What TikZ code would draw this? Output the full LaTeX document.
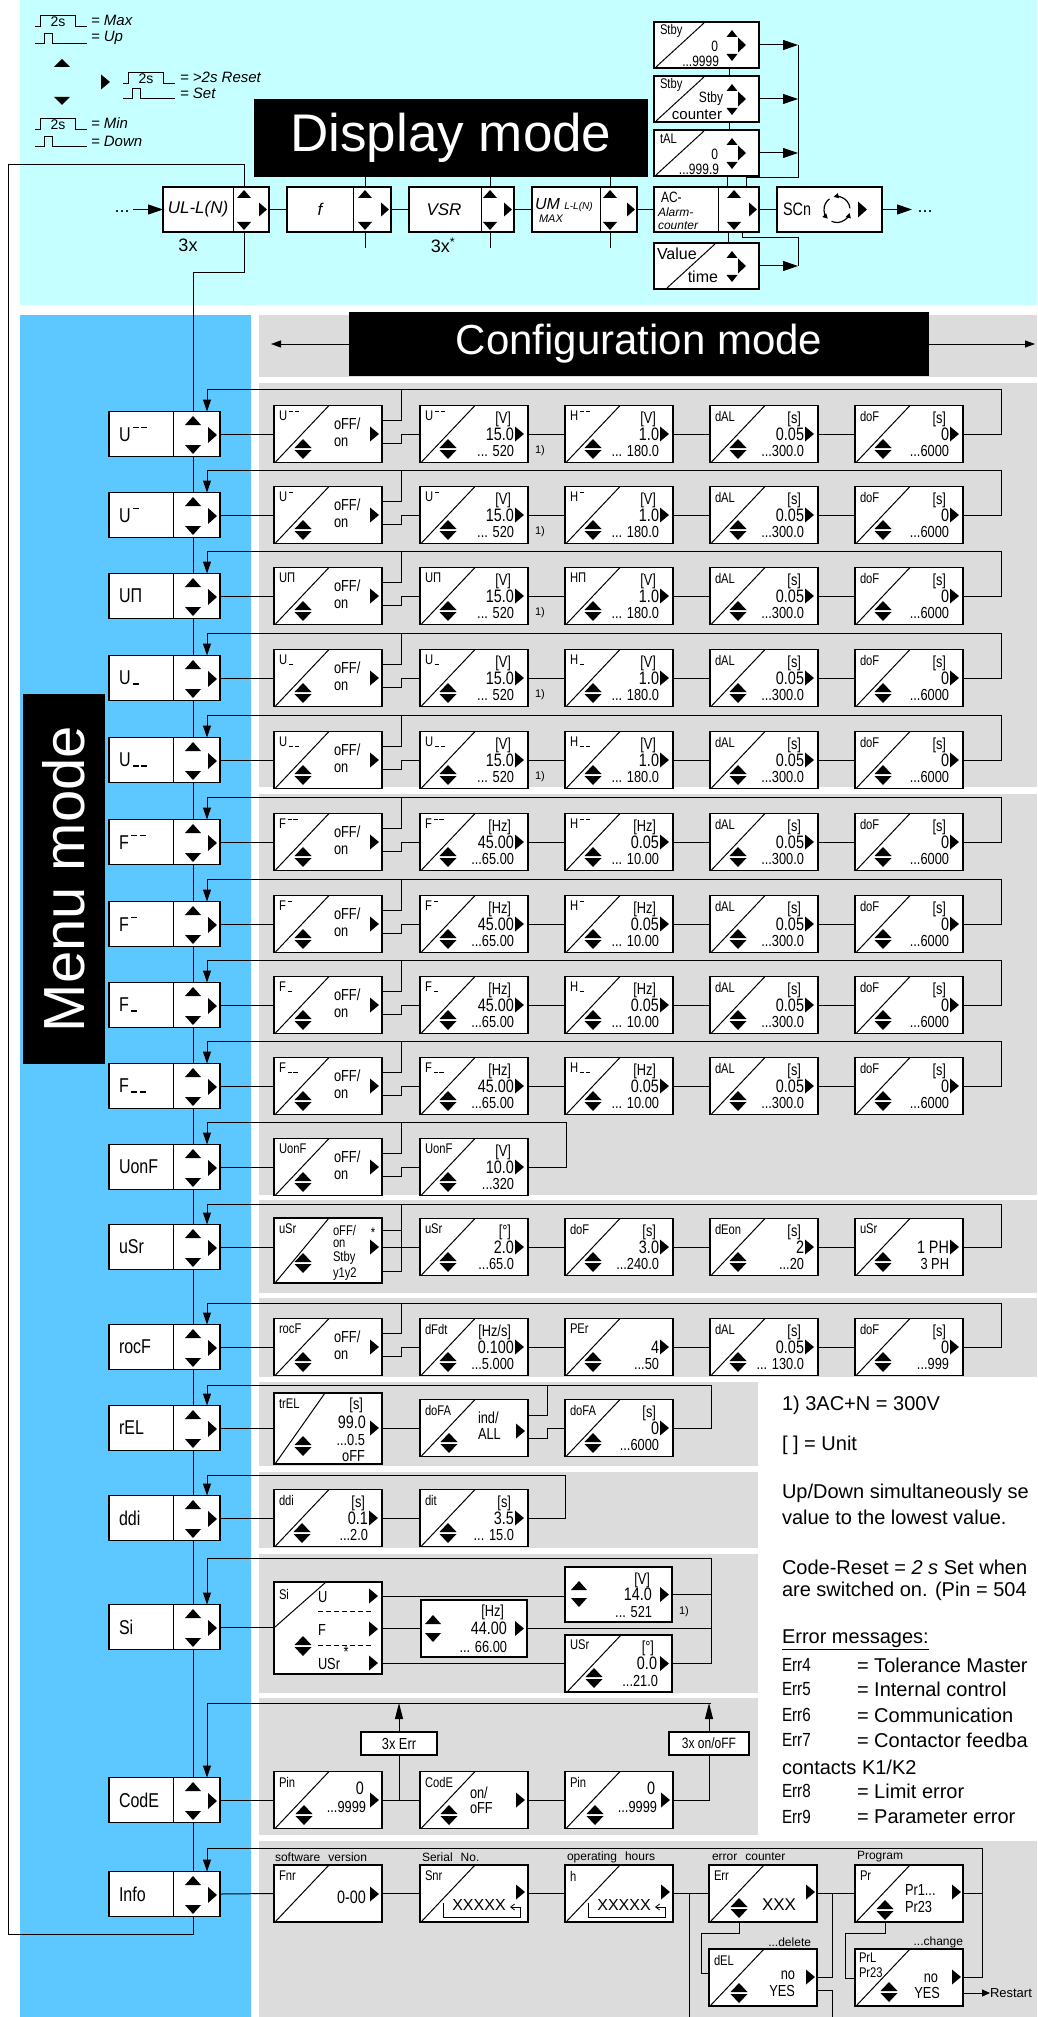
\documentclass[tikz,border=0pt]{standalone}
\usepackage{fontspec}
\setmainfont{Liberation Sans}
\newfontfamily\seg[FakeStretch=0.8]{Liberation Sans}
\usetikzlibrary{arrows.meta}
\definecolor{cyanbg}{RGB}{198,255,255}
\definecolor{bluebg}{RGB}{92,200,255}
\definecolor{graybg}{RGB}{220,220,220}

\newcommand\HD{\hspace{0.12em}\rule[0.64em]{0.3em}{0.07em}}
\newcommand\LD{\hspace{0.12em}\rule{0.3em}{0.07em}}

\newcommand\Tup[4]{\fill (#1-#3,#2) -- (#1+#3,#2) -- (#1,#2-#4) -- cycle;}
\newcommand\Tdn[4]{\fill (#1-#3,#2) -- (#1+#3,#2) -- (#1,#2+#4) -- cycle;}
\newcommand\Trt[4]{\fill (#1,#2-#3) -- (#1,#2+#3) -- (#1+#4,#2) -- cycle;}
\newcommand\UD[2]{\Tup{#1}{#2-1}{8.5}{9}\Tdn{#1}{#2+1}{8.5}{9}}

\newcommand\MenuBox[3]{%
 \node[bx, minimum width=111pt, minimum height=45pt] (#1) at (164.5,#2) {};
 \draw[ln] (173,#2-22.5) -- (173,#2+22.5);
 \node[ml, anchor=west] (#1l) at (119,#2) {#3};
 \Tup{193}{#2-9}{8}{9}\Tdn{193}{#2+11}{8}{9}\Trt{208}{#2+1}{8}{9}
 \coordinate (#1t) at (193,#2-22.5);
 \coordinate (#1b) at (193,#2+22.5);
 \coordinate (#1r) at (207,#2-22.5);}

\newcommand\CB[5]{\node[bx, anchor=north west, minimum width=#4pt, minimum height=#5pt] (#1) at (#2,#3) {};}

\newcommand\VB[7]{%
 \CB{#1}{#2}{#3-28.5}{108}{57}
 \draw[ln] (#2+1,#3+28.5) -- (#2+55,#3-28.5);
 \node[lb, anchor=west] (#1l) at (#2+5,#3-18) {#4};
 \node[ut, anchor=east] (#1u) at (#2+91,#3-15) {#5};
 \node[vl, anchor=east] (#1v) at (#2+94,#3) {#6};
 \node[rg, anchor=east] (#1g) at (#2+94,#3+17) {#7};
 \UD{#2+28}{#3+15}
 \Trt{#2+95}{#3}{7.5}{9}}

\newcommand\OB[4]{%
 \CB{#1}{#2}{#3-28.5}{108}{57}
 \draw[ln] (#2+1,#3+28.5) -- (#2+55,#3-28.5);
 \node[lb, anchor=west] (#1l) at (#2+5,#3-18) {#4};
 \node[vs, anchor=west] (#1o) at (#2+60,#3-10) {oFF/};
 \node[vs, anchor=west] (#1n) at (#2+60,#3+8) {on};
 \UD{#2+29}{#3+15}
 \Trt{#2+96}{#3}{7.5}{9}
 \coordinate (#1p) at (#2+108,#3-14);
 \coordinate (#1q) at (#2+108,#3+9);}

\newcommand\SRow[9]{%
 \MenuBox{#1m}{#2}{#3}
 \OB{#1a}{274}{#2}{#3}
 \VB{#1b}{420}{#2}{#3}{#5}{#6}{#7}
 \VB{#1c}{565}{#2}{#4}{#5}{#8}{#9}
 \VB{#1d}{710}{#2}{dAL}{[s]}{0.05}{...300.0}
 \VB{#1e}{855}{#2}{doF}{[s]}{0}{...6000}
 \draw[ln] (#1m.east) -- (#1a.west);
 \draw[ln] (#1ap) -| (401,#2-45);
 \draw[ln] (#1aq) -| (401,#2) -- (#1b.west);
 \draw[ln] (#1b.east) -- (#1c.west);
 \draw[ln] (#1c.east) -- (#1d.west);
 \draw[ln] (#1d.east) -- (#1e.west);
 \draw[arr] (#1e.east) -- (1001,#2) -- (1001,#2-45) -- (207,#2-45) -- (#1mr);}

\newcommand\DBox[5]{%
 \CB{#1}{#2}{187}{#4}{45}
 \draw[ln] (#3,187) -- (#3,232);
 \Tup{#5}{198}{7}{8}\Tdn{#5}{222}{7}{8}\Trt{#2+#4-10}{209.5}{7}{8}}

\newcommand\SbyBox[2]{%
 \CB{#1}{654}{#2}{105}{46}
 \Tup{732}{#2+15}{5.5}{7}\Trt{738}{#2+23}{7.5}{8}\Tdn{732}{#2+32}{5.5}{7}}

\newcommand\LPulse[3]{%
 \draw[line width=0.8pt] (#1,#2) -- (#1+5,#2) -- (#1+5,#2-11) -- (#1+40,#2-11) -- (#1+40,#2) -- (#1+52,#2);
 \node[tx, font=\fontsize{14}{14}\selectfont] (#3) at (#1+23,#2-4.5) {2s};}
\newcommand\SPulse[2]{%
 \draw[line width=0.8pt] (#1,#2) -- (#1+9,#2) -- (#1+9,#2-10) -- (#1+17,#2-10) -- (#1+17,#2) -- (#1+52,#2);}

\begin{document}
\begin{tikzpicture}[x=1pt,y=-1pt,
 ln/.style={line width=1pt},
 bx/.style={draw, line width=1.2pt, fill=white, inner sep=0pt, outer sep=0pt},
 tx/.style={inner sep=0pt, outer sep=0pt},
 ml/.style={tx, font=\seg\fontsize{20}{20}\selectfont},
 lb/.style={tx, font=\seg\fontsize{14}{14}\selectfont},
 ut/.style={tx, font=\seg\fontsize{16}{16}\selectfont},
 vl/.style={tx, font=\seg\fontsize{18}{18}\selectfont},
 rg/.style={tx, font=\seg\fontsize{16}{16}\selectfont},
 vs/.style={tx, font=\seg\fontsize{16}{16}\selectfont},
 vt/.style={tx, font=\seg\fontsize{14}{14}\selectfont},
 sv/.style={tx, font=\seg\fontsize{15}{15}\selectfont},
 it/.style={tx, font=\itshape\fontsize{15}{15}\selectfont},
 sm/.style={tx, font=\fontsize{12}{12}\selectfont},
 note/.style={tx, font=\fontsize{20}{20}\selectfont},
 es/.style={tx, font=\seg\fontsize{19}{19}\selectfont},
 fn/.style={tx, font=\fontsize{11}{11}\selectfont},
 arr/.style={ln, -{Triangle[length=12pt,width=8pt]}},
 arrS/.style={ln, -{Triangle[length=15pt,width=10pt]}},
 uarr/.style={ln, -{Triangle[length=16pt,width=8pt]}},
 sarr/.style={ln, -{Triangle[length=8pt,width=7pt]}}]
\useasboundingbox (0,0) rectangle (1037,2017);
\clip (0,0) rectangle (1037,2017);

% ---------- backgrounds
\fill[cyanbg] (20,0) rectangle (1037,305);
\fill[bluebg] (20,315) rectangle (251,2017);
\fill[graybg] (259,315) rectangle (1037,377);
\fill[graybg] (259,383) rectangle (1037,787);
\fill[graybg] (259,794) rectangle (1037,1195);
\fill[graybg] (259,1200) rectangle (1037,1293);
\fill[graybg] (259,1298) rectangle (1037,1377);
\fill[graybg] (259,1382) rectangle (758,1466);
\fill[graybg] (259,1472) rectangle (758,1548);
\fill[graybg] (259,1554) rectangle (758,1693);
\fill[graybg] (259,1698) rectangle (758,1835);
\fill[graybg] (259,1841) rectangle (1037,2017);

% ---------- legend
\LPulse{35}{26}{p1}
\node[it, anchor=west] (lg1) at (91,20) {= Max};
\SPulse{35}{43}
\node[it, anchor=west] (lg2) at (91,38) {= Up};
\Tup{62}{67}{8}{8}
\Trt{101}{82}{7.5}{9}
\Tdn{62}{97}{8}{8}
\LPulse{123}{83}{p2}
\node[it, anchor=west] (lg3) at (180,77) {= >2s Reset};
\SPulse{123}{98}
\node[it, anchor=west] (lg4) at (180,93) {= Set};
\LPulse{35}{129}{p3}
\node[it, anchor=west] (lg5) at (91,123) {= Min};
\SPulse{35}{146}
\node[it, anchor=west] (lg6) at (91,141) {= Down};

% ---------- display mode
\node[tx, fill=black, text=white, minimum width=394pt, minimum height=78pt, font=\fontsize{53}{53}\selectfont] (dm) at (451,138) {Display mode};
\DBox{d1}{163}{233}{106}{244}
\DBox{d2}{287}{353}{104}{365}
\DBox{d3}{409}{481}{105}{490}
\DBox{d4}{532}{600}{105}{610}
\DBox{d5}{654}{718}{105}{734}
\CB{sc}{777}{187}{105}{45}
\node[tx, font=\itshape\fontsize{17}{17}\selectfont] (d1l) at (198,209.5) {UL-L(N)};
\node[tx, font=\itshape\fontsize{17}{17}\selectfont] (d2l) at (320,209.5) {f};
\node[tx, font=\itshape\fontsize{17}{17}\selectfont] (d3l) at (444,209.5) {VSR};
\node[tx, anchor=west, font=\itshape\fontsize{16}{16}\selectfont] (d4l) at (535,205) {UM \fontsize{10}{10}\selectfont L-L(N)};
\node[tx, anchor=west, font=\itshape\fontsize{11}{11}\selectfont] (d4m) at (539,219) {MAX};
\node[tx, anchor=west, font=\seg\fontsize{15}{15}\selectfont] (d5l) at (661,197) {AC-};
\node[tx, anchor=west, font=\itshape\fontsize{12}{12}\selectfont] (d5m) at (658,212) {Alarm-};
\node[tx, anchor=west, font=\itshape\fontsize{12}{12}\selectfont] (d5n) at (658,226) {counter};
\node[tx, anchor=west, font=\seg\fontsize{18}{18}\selectfont] (scl) at (783,209.5) {SCn};
\draw[line width=1.2pt, -{Triangle[length=5pt,width=5pt]}] (837,209.5) ++(115:13) arc[start angle=115, end angle=15, radius=13];
\draw[line width=1.2pt, -{Triangle[length=5pt,width=5pt]}] (837,209.5) ++(235:13) arc[start angle=235, end angle=135, radius=13];
\draw[line width=1.2pt, -{Triangle[length=5pt,width=5pt]}] (837,209.5) ++(355:13) arc[start angle=355, end angle=255, radius=13];
\Trt{858}{209.5}{8}{9}
\node[tx, font=\fontsize{18}{18}\selectfont] (d1x) at (188,245) {3x};
\node[tx, font=\fontsize{18}{18}\selectfont] (d3x) at (443,245) {3x\textsuperscript{*}};
\node[tx, font=\fontsize{18}{18}\selectfont] (dotl) at (122,212) {...};
\node[tx, font=\fontsize{18}{18}\selectfont] (dotr) at (925,212) {...};
\coordinate (dls) at (133,209.5);
\coordinate (drs) at (912,209.5);
\draw[arrS] (dls) -- (d1.west);
\draw[ln] (d1.east) -- (d2.west);
\draw[ln] (d2.east) -- (d3.west);
\draw[ln] (d3.east) -- (d4.west);
\draw[ln] (d4.east) -- (d5.west);
\draw[ln] (d5.east) -- (sc.west);
\draw[arrS] (sc.east) -- (drs);
\draw[ln] (365,177) -- (365,187);
\draw[ln] (490,177) -- (490,187);
\draw[ln] (610,177) -- (610,187);
\draw[ln] (365,232) -- (365,248);
\draw[ln] (490,232) -- (490,248);
\draw[ln] (610,232) -- (610,248);

% stby column
\SbyBox{s1}{22}
\draw[ln] (656,67) -- (704,23);
\node[vt, anchor=west] (s1l) at (660,31) {Stby};
\node[sv, anchor=east] (s1v) at (718,46) {0};
\node[sv, anchor=east] (s1g) at (719,61) {...9999};
\SbyBox{s2}{76}
\draw[ln] (656,121) -- (704,77);
\node[vt, anchor=west] (s2l) at (660,85) {Stby};
\node[sv, anchor=east] (s2v) at (723,99) {Stby};
\node[tx, anchor=east, font=\fontsize{15}{15}\selectfont] (s2g) at (722,115) {counter};
\SbyBox{s3}{130}
\draw[ln] (656,175) -- (704,131);
\node[vt, anchor=west] (s3l) at (660,139) {tAL};
\node[sv, anchor=east] (s3v) at (718,154) {0};
\node[sv, anchor=east] (s3g) at (719,169) {...999.9};
\SbyBox{s4}{243}
\draw[ln] (667,288) -- (715,244);
\node[tx, anchor=west, font=\fontsize{16}{16}\selectfont] (s4l) at (657,254) {Value};
\node[tx, anchor=east, font=\fontsize{16}{16}\selectfont] (s4g) at (718,277) {time};
\draw[arrS] (s1.east) -- (798,45);
\draw[arrS] (s2.east) -- (798,99);
\draw[arrS] (s3.east) -- (798,153);
\draw[ln] (798,45) -- (798,178) -- (746,178) -- (746,187);
\draw[ln] (729,68) -- (729,76);
\draw[ln] (729,122) -- (729,130);
\draw[ln] (727,176) -- (727,187);
\draw[arrS] (s4.east) -- (798,266);
\draw[ln] (798,266) -- (798,238) -- (742,238) -- (742,232);
\draw[ln] (728,232) -- (728,243);

% ---------- configuration / menu headers
\node[tx, fill=black, text=white, minimum width=580pt, minimum height=63pt, font=\fontsize{42}{42}\selectfont] (cm) at (639,344) {Configuration mode};
\coordinate (cml) at (271,344);
\coordinate (cmr) at (1035,344);
\draw[ln, -{Triangle[length=10pt,width=7pt]}] (cm.west) -- (cml);
\draw[ln, -{Triangle[length=10pt,width=7pt]}] (cm.east) -- (cmr);
\node[tx, fill=black, text=white, rotate=90, minimum width=370pt, minimum height=82pt, font=\fontsize{58}{58}\selectfont] (mm) at (64,879) {Menu mode};

% ---------- standard rows
\SRow{A}{434}{U\HD\HD}{H\HD\HD}{[V]}{15.0}{... 520}{1.0}{... 180.0}
\SRow{B}{515}{U\HD}{H\HD}{[V]}{15.0}{... 520}{1.0}{... 180.0}
\SRow{C}{596}{UΠ}{HΠ}{[V]}{15.0}{... 520}{1.0}{... 180.0}
\SRow{D}{678}{U\LD}{H\LD}{[V]}{15.0}{... 520}{1.0}{... 180.0}
\SRow{E}{760}{U\LD\LD}{H\LD\LD}{[V]}{15.0}{... 520}{1.0}{... 180.0}
\node[fn] (A1) at (540,451) {1)};
\node[fn] (B1) at (540,532) {1)};
\node[fn] (C1) at (540,613) {1)};
\node[fn] (D1) at (540,695) {1)};
\node[fn] (E1) at (540,777) {1)};
\SRow{F}{842}{F\HD\HD}{H\HD\HD}{[Hz]}{45.00}{...65.00}{0.05}{... 10.00}
\SRow{G}{924}{F\HD}{H\HD}{[Hz]}{45.00}{...65.00}{0.05}{... 10.00}
\SRow{H}{1005}{F\LD}{H\LD}{[Hz]}{45.00}{...65.00}{0.05}{... 10.00}
\SRow{I}{1086}{F\LD\LD}{H\LD\LD}{[Hz]}{45.00}{...65.00}{0.05}{... 10.00}

% UonF
\MenuBox{Jm}{1167}{UonF}
\OB{Ja}{274}{1167}{UonF}
\VB{Jb}{420}{1167}{UonF}{[V]}{10.0}{...320}
\draw[ln] (Jm.east) -- (Ja.west);
\draw[ln] (Jap) -| (401,1122);
\draw[ln] (Jaq) -| (401,1167) -- (Jb.west);
\draw[arr] (Jb.east) -- (566,1167) -- (566,1122) -- (207,1122) -- (Jmr);

% uSr
\MenuBox{Km}{1247}{uSr}
\CB{Ka}{274}{1218}{108}{65}
\draw[ln] (275,1283) -- (329,1218);
\node[lb, anchor=west] (Kal) at (279,1229) {uSr};
\node[vt, anchor=west] (Ka1) at (333,1230) {oFF/};
\node[vt] (Ka5) at (373,1233) {*};
\node[vt, anchor=west] (Ka2) at (333,1244) {on};
\node[vt, anchor=west] (Ka3) at (333,1258) {Stby};
\node[vt, anchor=west] (Ka4) at (333,1274) {y1y2};
\UD{303}{1263}
\Trt{370}{1247}{7.5}{9}
\VB{Kb}{420}{1247}{uSr}{[°]}{2.0}{...65.0}
\VB{Kc}{565}{1247}{doF}{[s]}{3.0}{...240.0}
\VB{Kd}{710}{1247}{dEon}{[s]}{2}{...20}
\VB{Ke}{855}{1247}{uSr}{}{1 PH}{3 PH}
\draw[ln] (Km.east) -- (Km.east -| Ka.west);
\draw[ln] (382,1230) -- (401,1230);
\draw[ln] (382,1271) -| (401,1204);
\draw[ln] (382,1247) -- (Kb.west);
\draw[ln] (Kb.east) -- (Kc.west);
\draw[ln] (Kc.east) -- (Kd.west);
\draw[ln] (Kd.east) -- (Ke.west);
\draw[arr] (Ke.east) -- (1001,1247) -- (1001,1204) -- (207,1204) -- (Kmr);

% rocF
\MenuBox{Lm}{1347}{rocF}
\OB{La}{274}{1347}{rocF}
\VB{Lb}{420}{1347}{dFdt}{[Hz/s]}{0.100}{...5.000}
\VB{Lc}{565}{1347}{PEr}{}{4}{...50}
\VB{Ld}{710}{1347}{dAL}{[s]}{0.05}{... 130.0}
\VB{Le}{855}{1347}{doF}{[s]}{0}{...999}
\draw[ln] (Lm.east) -- (La.west);
\draw[ln] (Lap) -| (401,1303);
\draw[ln] (Laq) -| (401,1347) -- (Lb.west);
\draw[ln] (Lb.east) -- (Lc.west);
\draw[ln] (Lc.east) -- (Ld.west);
\draw[ln] (Ld.east) -- (Le.west);
\draw[arr] (Le.east) -- (1001,1347) -- (1001,1303) -- (207,1303) -- (Lmr);

% rEL
\MenuBox{Mm}{1428}{rEL}
\CB{Ma}{274}{1393}{108}{71}
\draw[ln] (275,1464) -- (325,1393);
\node[lb, anchor=west] (Mal) at (279,1404) {trEL};
\node[ut, anchor=east] (Ma1) at (363,1405) {[s]};
\node[vl, anchor=east] (Ma2) at (366,1422) {99.0};
\node[rg, anchor=east] (Ma3) at (365,1440) {...0.5};
\node[rg, anchor=east] (Ma4) at (365,1456) {oFF};
\UD{303}{1446}
\Trt{370}{1428}{7.5}{9}
\CB{Mb}{420}{1399.5}{108}{57}
\draw[ln] (421,1456.5) -- (475,1399.5);
\node[lb, anchor=west] (Mbl) at (425,1410) {doFA};
\node[vs, anchor=west] (Mb1) at (478,1418) {ind/};
\node[vs, anchor=west] (Mb2) at (478,1434) {ALL};
\UD{449}{1443}
\Trt{516}{1431}{7.5}{9}
\VB{Mc}{565}{1428}{doFA}{[s]}{0}{...6000}
\draw[ln] (Mm.east) -- (Mm.east -| Ma.west);
\draw[ln] (382,1428) -- (Mb.west);
\draw[ln] (528,1415) -| (547,1385);
\draw[ln] (528,1438) -| (547,1428) -- (Mc.west);
\draw[arr] (Mc.east) -- (711,1428) -- (711,1385) -- (207,1385) -- (Mmr);

% ddi
\MenuBox{Nm}{1518}{ddi}
\VB{Na}{274}{1518}{ddi}{[s]}{0.1}{...2.0}
\VB{Nb}{420}{1518}{dit}{[s]}{3.5}{... 15.0}
\draw[ln] (Nm.east) -- (Na.west);
\draw[ln] (Na.east) -- (Nb.west);
\draw[arr] (Nb.east) -- (565,1518) -- (565,1475) -- (207,1475) -- (Nmr);

% Si
\MenuBox{Om}{1627}{Si}
\CB{Oa}{274}{1582}{108}{92}
\draw[ln] (275,1627) -- (326,1582);
\node[lb, anchor=west] (Oal) at (279,1594) {Si};
\node[vs, anchor=west] (Oa1) at (318,1597) {U};
\node[vs, anchor=west] (Oa2) at (318,1630) {F};
\node[vs, anchor=west] (Oa3) at (318,1664) {USr};
\node[vs] (Oa4) at (346,1652) {*};
\draw[line width=1pt, dash pattern=on 5pt off 3pt] (318,1611) -- (372,1611);
\draw[line width=1pt, dash pattern=on 5pt off 3pt] (318,1645) -- (372,1645);
\UD{303}{1646}
\Trt{369}{1596}{7.5}{9}
\Trt{369}{1629}{7.5}{9}
\Trt{369}{1663}{7.5}{9}
\coordinate (OaU) at (382,1596);
\coordinate (OaF) at (382,1628.5);
\coordinate (OaS) at (382,1663.5);
\CB{Ob}{421}{1600}{106}{57}
\Tup{433}{1624}{8}{9}\Tdn{433}{1633}{8}{9}
\node[ut, anchor=east] (Ob1) at (504,1612) {[Hz]};
\node[vl, anchor=east] (Ob2) at (507,1628.5) {44.00};
\node[rg, anchor=east] (Ob3) at (507,1647) {... 66.00};
\Trt{515}{1628.5}{7.5}{9}
\CB{Oc}{565}{1567}{107}{55}
\Tup{579}{1590}{8}{9}\Tdn{579}{1598}{8}{9}
\node[ut, anchor=east] (Oc1) at (650,1580) {[V]};
\node[vl, anchor=east] (Oc2) at (652,1594.5) {14.0};
\node[rg, anchor=east] (Oc3) at (652,1612) {... 521};
\Trt{660}{1594.5}{7.5}{9}
\node[fn] (Oc4) at (684,1612) {1)};
\CB{Od}{565}{1635}{107}{57}
\draw[ln] (567,1692) -- (621,1635);
\node[lb, anchor=west] (Odl) at (570,1645) {USr};
\node[ut, anchor=east] (Od1) at (654,1648) {[°]};
\node[vl, anchor=east] (Od2) at (657,1663.5) {0.0};
\node[rg, anchor=east] (Od3) at (658,1681) {...21.0};
\UD{594}{1678}
\Trt{660}{1663.5}{7.5}{9}
\draw[ln] (Om.east) -- (Om.east -| Oa.west);
\draw[ln] (OaU) -- (OaU -| Oc.west);
\draw[ln] (OaF) -- (Ob.west);
\draw[ln] (OaS) -- (Od.west);
\draw[ln] (Ob.east) -- (711,1628.5);
\draw[ln] (Oc.east) -- (711,1594.5);
\draw[arr] (Od.east) -- (711,1663.5) -- (711,1558) -- (207,1558) -- (Omr);

% CodE
\MenuBox{Pm}{1800}{CodE}
\CB{Pa}{274}{1771.5}{108}{57}
\draw[ln] (275,1828.5) -- (329,1771.5);
\node[lb, anchor=west] (Pal) at (279,1782) {Pin};
\node[vl, anchor=east] (Pa1) at (364,1788) {0};
\node[rg, anchor=east] (Pa2) at (366,1807) {...9999};
\UD{304}{1815}
\Trt{370}{1800}{7.5}{9}
\CB{Pb}{420}{1771.5}{108}{57}
\draw[ln] (421,1828.5) -- (475,1771.5);
\node[lb, anchor=west] (Pbl) at (425,1782) {CodE};
\node[vs, anchor=west] (Pb1) at (470,1793) {on/};
\node[vs, anchor=west] (Pb2) at (470,1808) {oFF};
\UD{449}{1815}
\Trt{516}{1800}{7.5}{9}
\CB{Pc}{565}{1771.5}{108}{57}
\draw[ln] (566,1828.5) -- (620,1771.5);
\node[lb, anchor=west] (Pcl) at (570,1782) {Pin};
\node[vl, anchor=east] (Pc1) at (655,1788) {0};
\node[rg, anchor=east] (Pc2) at (657,1807) {...9999};
\UD{595}{1815}
\Trt{661}{1800}{7.5}{9}
\node[bx, minimum width=76pt, minimum height=23pt, font=\seg\fontsize{16}{16}\selectfont] (Px) at (399,1743.5) {3x Err};
\node[bx, minimum width=80pt, minimum height=23pt, font=\seg\fontsize{15}{15}\selectfont] (Py) at (709,1743.5) {3x on/oFF};
\draw[ln] (Pm.east) -- (Pa.west);
\draw[ln] (Pa.east) -- (Pb.west);
\draw[ln] (399,1800) -- (Px.south);
\draw[ln] (Pb.east) -- (Pc.west);
\draw[ln] (Pc.east) -- (709,1800) -- (Py.south);
\draw[uarr] (Px.north) -- (399,1703);
\draw[uarr] (Py.north) -- (709,1703);
\draw[arr] (711,1703) -- (207,1703) -- (Pmr);

% Info
\MenuBox{Qm}{1894}{Info}
\CB{Qa}{274}{1865}{108}{57}
\draw[ln] (275,1922) -- (329,1865);
\node[lb, anchor=west] (Qal) at (279,1876) {Fnr};
\node[vl, anchor=east] (Qa1) at (366,1897) {0-00};
\Trt{370}{1894}{7.5}{9}
\node[sm, anchor=west] (Qat) at (275,1857) {software\hspace{8pt}version};
\CB{Qb}{420}{1865}{108}{57}
\draw[ln] (421,1922) -- (475,1865);
\node[lb, anchor=west] (Qbl) at (425,1876) {Snr};
\node[tx, font=\fontsize{16}{16}\selectfont] (Qbx) at (479,1905) {XXXXX};
\draw[line width=0.8pt, -{Straight Barb[length=4pt,width=6pt]}] (443,1903) -- (443,1917) -- (520,1917) -- (520,1907) -- (510,1907);
\Trt{516}{1892}{7.5}{9}
\node[sm, anchor=west] (Qbt) at (422,1857) {Serial\hspace{8pt}No.};
\CB{Qc}{565}{1865}{108}{57}
\draw[ln] (566,1922) -- (620,1865);
\node[lb, anchor=west] (Qcl) at (570,1876) {h};
\node[tx, font=\fontsize{16}{16}\selectfont] (Qcx) at (624,1905) {XXXXX};
\draw[line width=0.8pt, -{Straight Barb[length=4pt,width=6pt]}] (588,1903) -- (588,1917) -- (665,1917) -- (665,1907) -- (655,1907);
\Trt{661}{1892}{7.5}{9}
\node[sm, anchor=west] (Qct) at (567,1857) {operating\hspace{8pt}hours};
\CB{Qd}{709}{1865}{108}{57}
\draw[ln] (710,1922) -- (764,1865);
\node[lb, anchor=west] (Qdl) at (714,1876) {Err};
\node[tx, font=\fontsize{17}{17}\selectfont] (Qdx) at (779,1905) {XXX};
\UD{739}{1908}
\Trt{806}{1892}{7.5}{9}
\node[sm, anchor=west] (Qdt) at (712,1857) {error\hspace{8pt}counter};
\CB{Qe}{855}{1865}{108}{57}
\draw[ln] (856,1922) -- (910,1865);
\node[lb, anchor=west] (Qel) at (860,1876) {Pr};
\node[vs, anchor=west] (Qe1) at (905,1890) {Pr1...};
\node[vs, anchor=west] (Qe2) at (905,1907) {Pr23};
\UD{885}{1910}
\Trt{952}{1892}{7.5}{9}
\node[sm, anchor=west] (Qet) at (857,1857) {Program};
\CB{Qf}{709}{1949}{108}{57}
\draw[ln] (710,2006) -- (764,1949);
\node[lb, anchor=west] (Qfl) at (714,1960) {dEL};
\node[vs, anchor=east] (Qf1) at (795,1975) {no};
\node[vs, anchor=east] (Qf2) at (795,1991) {YES};
\UD{739}{1993}
\Trt{806}{1977}{7.5}{9}
\node[sm, anchor=east] (Qft) at (811,1942) {...delete};
\CB{Qg}{855}{1949}{108}{57}
\draw[ln] (856,2006) -- (910,1949);
\node[lb, anchor=west] (Qgl) at (859,1958) {PrL};
\node[lb, anchor=west] (Qgm) at (859,1973) {Pr23};
\node[vs, anchor=east] (Qg1) at (938,1978) {no};
\node[vs, anchor=east] (Qg2) at (940,1993) {YES};
\UD{889}{1992}
\Trt{952}{1977}{7.5}{9}
\node[sm, anchor=east] (Qgt) at (963,1942) {...change};
\node[tx, anchor=west, font=\fontsize{13}{13}\selectfont] (Qrs) at (990,1993) {Restart};
\draw[ln] (Qm.east) -- (Qa.west);
\draw[ln] (Qa.east) -- (Qb.west);
\draw[ln] (Qb.east) -- (Qc.west);
\draw[ln] (Qc.east) -- (Qd.west);
\draw[ln] (689,1893.5) -- (689,2017);
\draw[ln] (Qd.east) -- (Qe.west);
\draw[ln] (832,1893.5) -- (832,1977.5) -- (Qf.east);
\draw[ln] (817,1990) -| (832,2017);
\draw[ln] (739,1922) -- (739,1933) -- (701,1933) -- (701,1973) -- (709,1973);
\draw[ln] (885,1922) -- (885,1933) -- (845,1933) -- (845,1978) -- (855,1978);
\draw[ln] (Qe.east) -- (982,1893.5);
\draw[arr] (Qg.east) -- (982,1977.5) -- (982,1848) -- (207,1848) -- (Qmr);
\draw[sarr] (963,1993) -- (Qrs.west);

% ---------- main menu spine and loops
\draw[ln] (Amb) -- (Bmt);
\draw[ln] (Bmb) -- (Cmt);
\draw[ln] (Cmb) -- (Dmt);
\draw[ln] (Dmb) -- (Emt);
\draw[ln] (Emb) -- (Fmt);
\draw[ln] (Fmb) -- (Gmt);
\draw[ln] (Gmb) -- (Hmt);
\draw[ln] (Hmb) -- (Imt);
\draw[ln] (Imb) -- (Jmt);
\draw[ln] (Jmb) -- (Kmt);
\draw[ln] (Kmb) -- (Lmt);
\draw[ln] (Lmb) -- (Mmt);
\draw[ln] (Mmb) -- (Nmt);
\draw[ln] (Nmb) -- (Omt);
\draw[ln] (Omb) -- (Pmt);
\draw[ln] (Pmb) -- (Qmt);
\coordinate (d1t) at (244,187);
\coordinate (d1b) at (244,232);
\draw[ln] (d1b) -- (244,273) -- (193,273) -- (Amt);
\draw[ln] (Qmb) -- (193,1934) -- (8,1934) -- (8,165) -- (244,165) -- (d1t);

% ---------- notes
\node[note, anchor=west] (n1) at (782,1405) {1) 3AC+N = 300V};
\node[note, anchor=west] (n2) at (782,1445) {[ ] = Unit};
\node[note, anchor=west] (n3) at (782,1493) {Up/Down simultaneously se};
\node[note, anchor=west] (n4) at (782,1517) {value to the lowest value.};
\node[note, anchor=west] (n5) at (782,1567) {Code-Reset = \textit{2 s} Set when};
\node[note, anchor=west] (n6) at (782,1591) {are switched on. (Pin = 504};
\node[note, anchor=west] (n7) at (782,1640) {\underline{Error messages:}};
\node[es, anchor=west] (e4) at (782,1665) {Err4};
\node[note, anchor=west] (e4t) at (857,1665) {= Tolerance Master};
\node[es, anchor=west] (e5) at (782,1689) {Err5};
\node[note, anchor=west] (e5t) at (857,1689) {= Internal control};
\node[es, anchor=west] (e6) at (782,1715) {Err6};
\node[note, anchor=west] (e6t) at (857,1715) {= Communication};
\node[es, anchor=west] (e7) at (782,1740) {Err7};
\node[note, anchor=west] (e7t) at (857,1740) {= Contactor feedba};
\node[note, anchor=west] (e7u) at (782,1767) {contacts K1/K2};
\node[es, anchor=west] (e8) at (782,1791) {Err8};
\node[note, anchor=west] (e8t) at (857,1791) {= Limit error};
\node[es, anchor=west] (e9) at (782,1817) {Err9};
\node[note, anchor=west] (e9t) at (857,1817) {= Parameter error};
\end{tikzpicture}
\end{document}
